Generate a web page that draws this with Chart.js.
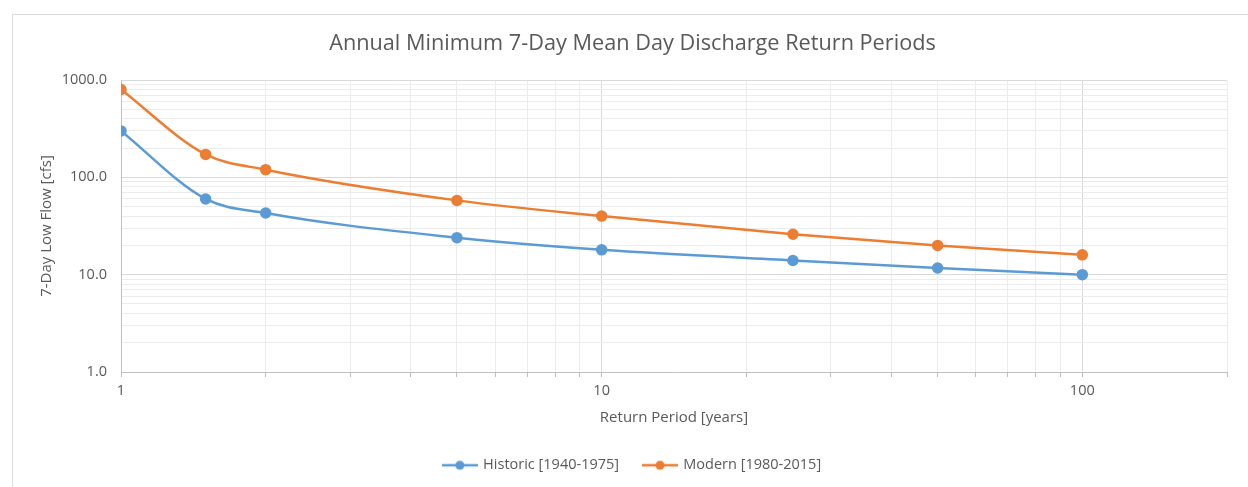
<!DOCTYPE html>
<html>
<head>
<meta charset="utf-8">
<script src="https://cdn.jsdelivr.net/npm/chart.js@4.4.1/dist/chart.umd.min.js"></script>
<style>
  html, body { margin: 0; padding: 0; background: #fff; }
  #wrap { width: 1248px; height: 487px; position: relative; }
</style>
</head>
<body>
<div id="wrap"><canvas id="flowChart" width="1248" height="487"></canvas></div>
<script>
// return periods (years)
const returnPeriods = [1, 1.5, 2, 5, 10, 25, 50, 100];
const historicFlow = [300, 60, 43, 24, 18, 14, 11.7, 10];
const modernFlow = [800, 172, 120, 58, 40, 26, 20, 16];
const xMajorTicks = [1, 10, 100];
const yMajorTicks = [1, 10, 100, 1000];

const gray = '#595959';
const font = "'Open Sans', sans-serif";

function isMajor(v, majors) {
    return majors.some(m => Math.abs(m - v) < 1e-9);
}

// 1,2,...,9 in every decade between the majors, then the axis max
function logTicks(majors, max) {
    const out = [];
    for (let i = 0; i < majors.length - 1; i++) {
        for (let k = 1; k < 10; k++) out.push(majors[i] * k);
    }
    out.push(majors[majors.length - 1]);
    if (max > majors[majors.length - 1]) out.push(max);
    return out.map(v => ({ value: v }));
}

function legendIcon(color) {
    const c = document.createElement('canvas');
    c.width = 36; c.height = 12;
    const g = c.getContext('2d');
    g.strokeStyle = color;
    g.lineWidth = 2.5;
    g.beginPath(); g.moveTo(0, 6); g.lineTo(36, 6); g.stroke();
    g.fillStyle = color;
    g.beginPath(); g.arc(18, 6, 4.5, 0, Math.PI * 2); g.fill();
    return c;
}

// light frame around the chart, like the original
const framePlugin = {
    id: 'frame',
    beforeDraw(chart) {
        const g = chart.ctx;
        g.save();
        g.strokeStyle = '#d9d9d9';
        g.lineWidth = 1;
        g.beginPath();
        g.moveTo(12.5, 487);
        g.lineTo(12.5, 14.5);
        g.lineTo(1248, 14.5);
        g.stroke();
        g.restore();
    }
};

const ctx = document.getElementById('flowChart').getContext('2d');

new Chart(ctx, {
    type: 'line',
    data: {
        datasets: [{
            label: 'Historic [1940-1975]',
            data: returnPeriods.map((x, i) => ({ x: x, y: historicFlow[i] })),
            borderColor: '#5B9BD5',
            backgroundColor: '#5B9BD5',
            borderWidth: 2.5,
            pointRadius: 4.5,
            pointHoverRadius: 4.5,
            cubicInterpolationMode: 'monotone'
        }, {
            label: 'Modern [1980-2015]',
            data: returnPeriods.map((x, i) => ({ x: x, y: modernFlow[i] })),
            borderColor: '#ED7D31',
            backgroundColor: '#ED7D31',
            borderWidth: 2.5,
            pointRadius: 4.5,
            pointHoverRadius: 4.5,
            cubicInterpolationMode: 'monotone'
        }]
    },
    options: {
        responsive: false,
        animation: false,
        layout: { padding: { left: 38, right: 21, top: 31, bottom: 4.5 } },
        scales: {
            x: {
                type: 'logarithmic',
                min: 1,
                max: 200,
                afterBuildTicks(scale) { scale.ticks = logTicks(xMajorTicks, 200); },
                border: { color: '#bfbfbf', width: 1 },
                grid: {
                    color: c => isMajor(c.tick.value, xMajorTicks) ? '#d9d9d9' : '#ececec',
                    tickLength: 5,
                    tickColor: '#bfbfbf'
                },
                ticks: {
                    autoSkip: false,
                    maxRotation: 0,
                    color: gray,
                    font: { family: font, size: 14.5 },
                    padding: 5,
                    callback: v => isMajor(v, xMajorTicks) ? String(v) : ''
                },
                title: {
                    display: true,
                    text: 'Return Period [years]',
                    color: gray,
                    font: { family: font, size: 15 },
                    padding: { top: 4, bottom: 6 }
                },
                afterFit(scale) { scale.height = 61; }
            },
            y: {
                type: 'logarithmic',
                min: 1,
                max: 1000,
                afterBuildTicks(scale) { scale.ticks = logTicks(yMajorTicks, 1000); },
                border: { color: '#bfbfbf', width: 1 },
                grid: {
                    color: c => isMajor(c.tick.value, yMajorTicks) ? '#d9d9d9' : '#ececec',
                    drawTicks: false
                },
                ticks: {
                    autoSkip: false,
                    color: gray,
                    font: { family: font, size: 14.5 },
                    padding: 14,
                    callback: v => isMajor(v, yMajorTicks) ? Number(v).toFixed(1) : ''
                },
                title: {
                    display: true,
                    text: '7-Day Low Flow [cfs]',
                    color: gray,
                    font: { family: font, size: 15 },
                    padding: { top: 0, bottom: 8 }
                },
                afterFit(scale) { scale.width = 83; }
            }
        },
        plugins: {
            title: {
                display: true,
                text: 'Annual Minimum 7-Day Mean Day Discharge Return Periods',
                color: gray,
                font: { family: font, size: 21.7, weight: 'normal' },
                padding: { top: 0, bottom: 23 }
            },
            legend: {
                position: 'bottom',
                labels: {
                    color: gray,
                    font: { family: font, size: 14.5 },
                    usePointStyle: true,
                    pointStyleWidth: 32,
                    boxWidth: 32,
                    boxHeight: 12,
                    padding: 25,
                    generateLabels(chart) {
                        return chart.data.datasets.map((ds, i) => ({
                            text: ds.label,
                            fontColor: gray,
                            pointStyle: legendIcon(ds.borderColor),
                            datasetIndex: i,
                            hidden: false,
                            lineWidth: 0
                        }));
                    }
                }
            },
            tooltip: { enabled: false }
        }
    },
    plugins: [framePlugin]
});
</script>
</body>
</html>
